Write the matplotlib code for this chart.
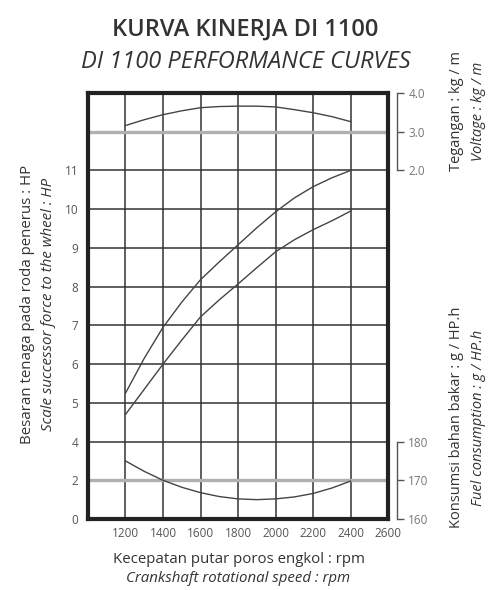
import matplotlib
matplotlib.use("Agg")
import matplotlib.pyplot as plt

plt.rcParams['font.family'] = ['Open Sans', 'DejaVu Sans']

# engine speed, rpm (values every 100 rpm)
rpm = [1200, 1300, 1400, 1500, 1600, 1700, 1800, 1900, 2000, 2100, 2200, 2300, 2400]
# drawbar power, HP (two curves)
hpUpper = [5.25, 6.15, 6.95, 7.6, 8.18, 8.64, 9.08, 9.52, 9.93, 10.29, 10.58, 10.81, 11.0]
hpLower = [4.7, 5.35, 6.0, 6.62, 7.22, 7.66, 8.07, 8.49, 8.9, 9.21, 9.47, 9.7, 9.95]
# torque, kg / m
torque = [3.16, 3.31, 3.44, 3.54, 3.62, 3.65, 3.66, 3.66, 3.64, 3.57, 3.49, 3.39, 3.26]
# fuel consumption, g / HP.h
fuel = [175.0, 172.3, 170.0, 168.2, 166.8, 165.8, 165.2, 165.0, 165.2, 165.7, 166.6, 168.0, 169.8]

gridRpm = [1200, 1400, 1600, 1800, 2000, 2200, 2400]
xTicks = [1200, 1400, 1600, 1800, 2000, 2200, 2400, 2600]
hpTickLabels = ['0', '2', '4', '5', '6', '7', '8', '9', '10', '11']
torqueTicks = [2.0, 3.0, 4.0]
fuelTicks = [160, 170, 180]

textColor = '#333333'
lineColor = '#444444'


# the chart uses one shared grid of 11 rows; each scale sits on its own rows
def hpToRow(v):
    return v - 2 if v >= 4 else v / 2


def torqueToRow(v):
    return v + 7


def fuelToRow(v):
    return (v - 160) / 10


fig = plt.figure(figsize=(4.97, 5.90), dpi=100)
ax = fig.add_axes([0.177, 0.1203, 0.604, 0.7221])
ax.set_xlim(1000, 2600)
ax.set_ylim(0, 11)

# grid
for x in gridRpm:
    ax.axvline(x, color='#333333', lw=1.1, zorder=1)
for r in range(1, 11):
    if r in (1, 10):
        ax.axhline(r, color='#b0b0b0', lw=2.4, zorder=1)
    else:
        ax.axhline(r, color='#333333', lw=1.1, zorder=1)

ax.plot(rpm, [hpToRow(v) for v in hpUpper], color=lineColor, lw=1.0, zorder=3)
ax.plot(rpm, [hpToRow(v) for v in hpLower], color=lineColor, lw=1.0, zorder=3)
ax.plot(rpm, [torqueToRow(v) for v in torque], color=lineColor, lw=1.0, zorder=3)
ax.plot(rpm, [fuelToRow(v) for v in fuel], color=lineColor, lw=1.0, zorder=3)

for s in ax.spines.values():
    s.set_linewidth(3.0)
    s.set_color('#222222')

ax.set_xticks(xTicks)
ax.set_xticklabels([str(t) for t in xTicks])
ax.set_yticks(range(10))
ax.set_yticklabels(hpTickLabels)
ax.tick_params(axis='both', length=0, labelsize=8.5, labelcolor='#555555')
ax.tick_params(axis='x', pad=6)
ax.tick_params(axis='y', pad=7)

# right-hand scales
for ticks, conv, lo, hi in [(torqueTicks, torqueToRow, 9, 11),
                            (fuelTicks, fuelToRow, 0, 2)]:
    tw = ax.twinx()
    tw.set_ylim(0, 11)
    for k, s in tw.spines.items():
        if k != 'right':
            s.set_visible(False)
    tw.spines['right'].set_position(('outward', 6.5))
    tw.spines['right'].set_bounds(lo, hi)
    tw.spines['right'].set_color('#555555')
    tw.spines['right'].set_linewidth(1.0)
    tw.set_yticks([conv(t) for t in ticks])
    tw.set_yticklabels([('%.1f' % t) if isinstance(t, float) else str(t) for t in ticks])
    tw.tick_params(axis='y', length=5, width=1.0, color='#555555',
                   labelsize=8.5, labelcolor='#777777', pad=3)

# titles
fig.text(0.494, 0.949, 'KURVA KINERJA DI 1100', ha='center', va='center',
         fontsize=17, fontweight='semibold', color=textColor)
fig.text(0.494, 0.895, 'DI 1100 PERFORMANCE CURVES', ha='center', va='center',
         fontsize=17, style='italic', color=textColor)

# axis labels
fig.text(0.48, 0.051, 'Kecepatan putar poros engkol : rpm', ha='center', va='center',
         fontsize=10.8, color=textColor)
fig.text(0.48, 0.019, 'Crankshaft rotational speed : rpm', ha='center', va='center',
         fontsize=10.8, style='italic', color=textColor)

fig.text(0.056, 0.484, 'Besaran tenaga pada roda penerus : HP', ha='center', va='center',
         rotation=90, fontsize=10.8, color=textColor)
fig.text(0.097, 0.484, 'Scale successor force to the wheel : HP', ha='center', va='center',
         rotation=90, fontsize=10.8, style='italic', color=textColor)

fig.text(0.919, 0.812, 'Tegangan : kg / m', ha='center', va='center',
         rotation=90, fontsize=10.5, color=textColor)
fig.text(0.962, 0.812, 'Voltage : kg / m', ha='center', va='center',
         rotation=90, fontsize=10.5, style='italic', color=textColor)

fig.text(0.919, 0.292, 'Konsumsi bahan bakar : g / HP.h', ha='center', va='center',
         rotation=90, fontsize=10.5, color=textColor)
fig.text(0.962, 0.292, 'Fuel consumption : g / HP.h', ha='center', va='center',
         rotation=90, fontsize=10.5, style='italic', color=textColor)

fig.savefig('out.png', dpi=100)
